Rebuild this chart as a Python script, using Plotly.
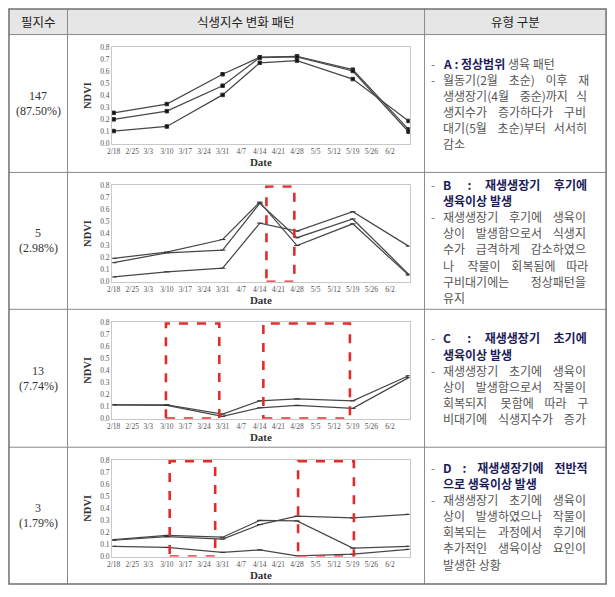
import plotly.graph_objects as go

W, H = 615, 597

# ---------------- data ----------------
obs_dates = ["2015-02-18", "2015-03-10", "2015-03-31", "2015-04-14",
             "2015-04-28", "2015-05-19", "2015-06-09"]
tick_dates = ["2015-02-18", "2015-02-25", "2015-03-03", "2015-03-10",
              "2015-03-17", "2015-03-24", "2015-03-31", "2015-04-07",
              "2015-04-14", "2015-04-21", "2015-04-28", "2015-05-05",
              "2015-05-12", "2015-05-19", "2015-05-26", "2015-06-02"]
tick_labels = ["2/18", "2/25", "3/3", "3/10", "3/17", "3/24", "3/31", "4/7",
               "4/14", "4/21", "4/28", "5/5", "5/12", "5/19", "5/26", "6/2"]
y_ticks = [0.0, 0.1, 0.2, 0.3, 0.4, 0.5, 0.6, 0.7, 0.8]
y_labels = ["0.0", "0.1", "0.2", "0.3", "0.4", "0.5", "0.6", "0.7", "0.8"]

ndvi_A1 = [0.257, 0.330, 0.577, 0.718, 0.726, 0.615, 0.120]
ndvi_A2 = [0.203, 0.271, 0.482, 0.715, 0.720, 0.604, 0.100]
ndvi_A3 = [0.106, 0.144, 0.406, 0.672, 0.690, 0.537, 0.190]

ndvi_B1 = [0.194, 0.246, 0.350, 0.660, 0.300, 0.480, 0.055]
ndvi_B2 = [0.158, 0.240, 0.262, 0.650, 0.365, 0.520, 0.063]
ndvi_B3 = [0.040, 0.082, 0.112, 0.486, 0.420, 0.580, 0.295]

ndvi_C1 = [0.115, 0.115, 0.038, 0.148, 0.164, 0.148, 0.356]
ndvi_C2 = [0.115, 0.110, 0.020, 0.090, 0.110, 0.085, 0.340]

ndvi_D1 = [0.140, 0.175, 0.160, 0.300, 0.295, 0.070, 0.085]
ndvi_D2 = [0.135, 0.165, 0.145, 0.265, 0.335, 0.320, 0.350]
ndvi_D3 = [0.085, 0.075, 0.035, 0.055, 0.005, 0.020, 0.060]

# anomaly windows (red dashed boxes)
boxes_A = []
boxes_B = [("2015-04-16 12:00", "2015-04-27 00:00")]
boxes_C = [("2015-03-09 16:00", "2015-03-29 18:00"),
           ("2015-04-15 08:00", "2015-05-17 22:00")]
boxes_D = [("2015-03-11 02:00", "2015-03-28 05:00"),
           ("2015-04-28 10:00", "2015-05-19 10:00")]

header_labels = ["필지수", "식생지수 변화 패턴", "유형 구분"]
field_counts = ["147", "5", "13", "3"]
field_pcts = ["(87.50%)", "(2.98%)", "(7.74%)", "(1.79%)"]

type_titles = [
    ["A : 정상범위"],
    ["B : 재생생장기 후기에", "생육이상 발생"],
    ["C : 재생생장기 초기에", "생육이상 발생"],
    ["D : 재생생장기에 전반적", "으로 생육이상 발생"],
]
type_title_tail = [" 생육 패턴", "", "", ""]
type_desc = [
    ["월동기(2월 초순) 이후 재", "생생장기(4월 중순)까지 식", "생지수가 증가하다가 구비",
     "대기(5월 초순)부터 서서히", "감소"],
    ["재생생장기 후기에 생육이", "상이 발생함으로서 식생지", "수가 급격하게 감소하였으",
     "나 작물이 회복됨에 따라", "구비대기에는 정상패턴을", "유지"],
    ["재생생장기 초기에 생육이", "상이 발생함으로서 작물이", "회복되지 못함에 따라 구",
     "비대기에 식생지수가 증가"],
    ["재생생장기 초기에 생육이", "상이 발생하였으나 작물이", "회복되는 과정에서 후기에",
     "추가적인 생육이상 요인이", "발생한 상황"],
]

series_sets = [[ndvi_A1, ndvi_A2, ndvi_A3],
               [ndvi_B1, ndvi_B2, ndvi_B3],
               [ndvi_C1, ndvi_C2],
               [ndvi_D1, ndvi_D2, ndvi_D3]]
box_sets = [boxes_A, boxes_B, boxes_C, boxes_D]

# ---------------- layout helpers ----------------
def px(x):
    return x / W


def py(y):
    return 1 - y / H


TL, TR, TT, TB = 4, 606, 5, 589
COL1, COL2 = 63, 423
HEAD_B = 31
row_tops = [31, 171, 310, 450]
row_bots = [171, 310, 450, 589]

KFONT = "Noto Sans CJK KR"
SFONT = "Liberation Serif"
TFS = 12            # right column font size
LINE_H = 16.4       # right column line pitch (px)
TEXT_X = 441
TEXT_W = 154
NB = "\u00a0"


def char_w(c):
    if "\uac00" <= c <= "\ud7a3":
        return 1.0
    if c in "()":
        return 0.33
    if c.isdigit():
        return 0.555
    if c in " \u00a0":
        return 0.224
    if c == ":":
        return 0.28
    if c.isupper():
        return 0.65
    return 0.55


def justify(text, bold=False):
    words = text.split(" ")
    gaps = len(words) - 1
    if gaps <= 0:
        return text
    base = sum(char_w(c) for c in text) * TFS * (1.03 if bold else 1.0)
    extra = int(round((TEXT_W - base) / (0.224 * TFS)))
    extra = max(extra, 0)
    out = words[0]
    for g in range(gaps):
        n = 1 + extra // gaps + (1 if g < extra % gaps else 0)
        out += NB * n + words[g + 1]
    return out


fig = go.Figure()
shapes = []
annotations = []
layout_axes = {}

# header background
shapes.append(dict(type="rect", xref="paper", yref="paper",
                   x0=px(TL), x1=px(TR), y0=py(HEAD_B), y1=py(TT),
                   fillcolor="#e6e6e6", line=dict(width=0), layer="below"))

for i, sers in enumerate(series_sets):
    top = row_tops[i]
    n = "" if i == 0 else str(i + 1)
    xa, ya = "x" + n, "y" + n
    for s in sers:
        fig.add_trace(go.Scatter(
            x=obs_dates, y=s, mode="lines+markers", xaxis=xa, yaxis=ya,
            line=dict(color="#484848", width=1.25),
            marker=dict(symbol="square" if i == 0 else "line-ew", size=3.5 if i == 0 else 4,
                        color="#111111", line=dict(color="#333333", width=1)),
            showlegend=False, hoverinfo="skip"))
    layout_axes["xaxis" + n] = dict(
        domain=[px(108), px(408)], anchor=ya, type="date",
        range=["2015-02-17 10:00", "2015-06-09 10:00"],
        tickmode="array", tickvals=tick_dates, ticktext=tick_labels, tickangle=0,
        tickfont=dict(family=SFONT, size=7.5, color="#555555"),
        showline=True, linecolor="#c8c8c8", linewidth=1, mirror=True,
        showgrid=False, zeroline=False, ticks="",
        title=dict(text="<b>Date</b>", font=dict(family=SFONT, size=11, color="#333333"),
                   standoff=1))
    layout_axes["yaxis" + n] = dict(
        domain=[py(top + 111), py(top + 13)], anchor=xa,
        range=[0, 0.8], tickmode="array", tickvals=y_ticks, ticktext=y_labels,
        tickfont=dict(family=SFONT, size=7.5, color="#555555"),
        showline=True, linecolor="#c8c8c8", linewidth=1, mirror=True,
        showgrid=False, zeroline=False, ticks="",
        title=dict(text="<b>NDVI</b>", font=dict(family=SFONT, size=10.5, color="#333333"),
                   standoff=6))
    for (b0, b1) in box_sets[i]:
        shapes.append(dict(type="rect", xref=xa, yref=ya, x0=b0, x1=b1, y0=0.0, y1=0.79,
                           line=dict(color="#e32b2b", width=2.6, dash="dash"),
                           fillcolor="rgba(0,0,0,0)"))

    # left column
    cy = (top + row_bots[i]) / 2
    for k, t in enumerate([field_counts[i], field_pcts[i]]):
        annotations.append(dict(xref="paper", yref="paper", x=px((TL + COL1) / 2),
                                y=py(cy + (k - 0.5) * 15), text=t, showarrow=False,
                                xanchor="center", yanchor="middle", align="center",
                                font=dict(family=SFONT, size=12, color="#333333")))

    # right column (one text per line)
    lines = []
    dash_flags = []
    tt = type_titles[i]
    for k, t in enumerate(tt):
        last = (k == len(tt) - 1)
        body = t if last else justify(t, bold=True)
        txt = "<b>" + body + "</b>"
        if last and type_title_tail[i]:
            txt += "<span style='color:#555555'>" + type_title_tail[i] + "</span>"
        lines.append("<span style='color:#1c1c5a'>" + txt + "</span>")
        dash_flags.append(k == 0)
    dd = type_desc[i]
    for k, t in enumerate(dd):
        last = (k == len(dd) - 1) and i != 2
        lines.append(t if last else justify(t))
        dash_flags.append(k == 0)
    nl = len(lines)
    for k, (txt, has_dash) in enumerate(zip(lines, dash_flags)):
        ly = cy + (k - (nl - 1) / 2) * LINE_H
        annotations.append(dict(xref="paper", yref="paper", x=px(TEXT_X), y=py(ly),
                                text=txt, showarrow=False, xanchor="left", yanchor="middle",
                                align="left", borderpad=0,
                                font=dict(family=KFONT, size=TFS, color="#555555")))
        if has_dash:
            annotations.append(dict(xref="paper", yref="paper", x=px(428), y=py(ly),
                                    text="-", showarrow=False, xanchor="left",
                                    yanchor="middle", borderpad=0,
                                    font=dict(family=KFONT, size=TFS, color="#777777")))

# header text
for label, x0, x1 in zip(header_labels, [TL, COL1, COL2], [COL1, COL2, TR]):
    annotations.append(dict(xref="paper", yref="paper", x=px((x0 + x1) / 2),
                            y=py((TT + HEAD_B) / 2), text=label, showarrow=False,
                            xanchor="center", yanchor="middle",
                            font=dict(family=KFONT, size=12.5, color="#222222")))

# table lines
LC = "#8a8a8a"
for yy in [HEAD_B] + row_bots[:-1]:
    shapes.append(dict(type="line", xref="paper", yref="paper", x0=px(TL), x1=px(TR),
                       y0=py(yy), y1=py(yy), line=dict(color=LC, width=1)))
for xx in [COL1, COL2]:
    shapes.append(dict(type="line", xref="paper", yref="paper", x0=px(xx), x1=px(xx),
                       y0=py(TT), y1=py(TB), line=dict(color=LC, width=1)))
shapes.append(dict(type="rect", xref="paper", yref="paper", x0=px(TL), x1=px(TR),
                   y0=py(TB), y1=py(TT), line=dict(color="#707070", width=1.5),
                   fillcolor="rgba(0,0,0,0)"))

fig.update_layout(width=W, height=H, margin=dict(l=0, r=0, t=0, b=0),
                  paper_bgcolor="white", plot_bgcolor="white",
                  shapes=shapes, annotations=annotations, **layout_axes)

fig.write_html("out.html", config={"displayModeBar": False},
               post_script="document.body.style.margin='0';")
